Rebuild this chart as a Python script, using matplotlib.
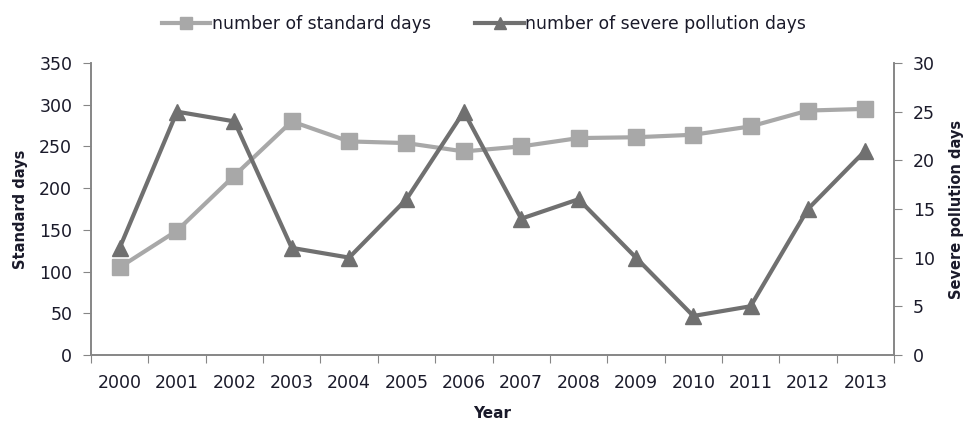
import matplotlib.pyplot as plt
import numpy as np

plt.rcParams['font.family'] = ['DejaVu Sans']

years = ["2000", "2001", "2002", "2003", "2004", "2005", "2006",
         "2007", "2008", "2009", "2010", "2011", "2012", "2013"]
standard_days = [105, 149, 215, 280, 256, 254, 244, 250, 260, 261, 264, 274, 293, 295]
severe_days = [11, 25, 24, 11, 10, 16, 25, 14, 16, 10, 4, 5, 15, 21]

c_std = "#A8A8A8"
c_sev = "#707070"
c_axis = "#868686"
c_text = "#1a1a2a"

fig = plt.figure(figsize=(9.68, 4.23), dpi=100)
ax = fig.add_axes([0.094, 0.161, 0.8296, 0.690])
ax2 = ax.twinx()

x = np.arange(len(years))
l1, = ax.plot(x, standard_days, color=c_std, lw=3, marker="s", ms=11,
              label="number of standard days")
l2, = ax2.plot(x, severe_days, color=c_sev, lw=3, marker="^", ms=11,
               label="number of severe pollution days")

ax.set_xlim(-0.5, len(years) - 0.5)
ax.set_ylim(0, 350)
ax.set_yticks(range(0, 351, 50))
ax2.set_ylim(0, 30)
ax2.set_yticks(range(0, 31, 5))

# ticks between categories, labels in the middle
ax.set_xticks(np.arange(-0.5, len(years), 1.0))
ax.set_xticklabels([])
ax.set_xticks(x, minor=True)
ax.set_xticklabels(years, minor=True, fontsize=12.5, color=c_text)
ax.tick_params(axis="x", which="minor", length=0, pad=14)
ax.tick_params(axis="x", which="major", length=5.5, color=c_axis)

for a in (ax, ax2):
    a.spines["top"].set_visible(False)
    for s in ("left", "right", "bottom"):
        a.spines[s].set_color(c_axis)
        a.spines[s].set_linewidth(1.2)
    a.tick_params(axis="y", length=5.5, color=c_axis, labelsize=12.5,
                  labelcolor=c_text, pad=8)

ax.set_xlabel("Year", fontsize=11, fontweight="bold", labelpad=10, color=c_text)
ax.set_ylabel("Standard days", fontsize=10.5, fontweight="bold", labelpad=8, color=c_text)
ax2.set_ylabel("Severe pollution days", fontsize=10.5, fontweight="bold", labelpad=10,
               color=c_text)

fig.legend(handles=[l1, l2], loc="upper center", bbox_to_anchor=(0.5, 1.0),
           ncol=2, frameon=False, fontsize=12.4, handlelength=2.8, markerscale=0.85,
           handletextpad=0.1, columnspacing=2.6, labelcolor=c_text)

fig.savefig("out.png", dpi=100)
